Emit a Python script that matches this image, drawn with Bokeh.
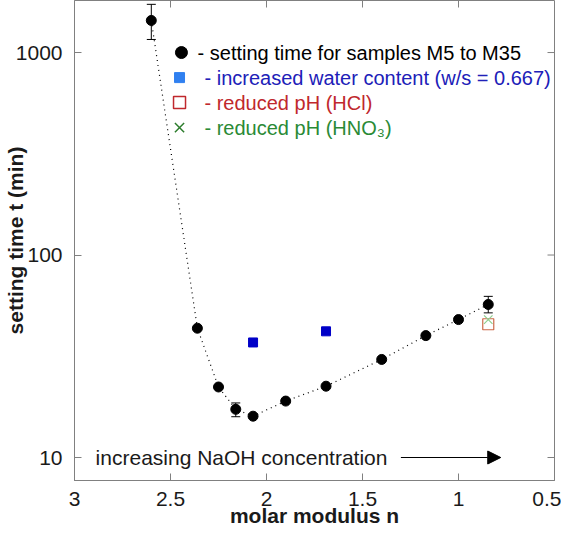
import math
from bokeh.plotting import figure
from bokeh.models import (Range1d, FixedTicker, ColumnDataSource,
                          Whisker, TeeHead, Arrow, NormalHead, Label)
from bokeh.embed import file_html
from bokeh.resources import INLINE

# ---------------- data ----------------
modulus = [2.6, 2.36, 2.25, 2.16, 2.07, 1.90, 1.69, 1.40, 1.17, 1.00, 0.845]
setting_time = [1440, 43.5, 22.3, 17.3, 16.0, 19.0, 22.5, 30.5, 40.0, 48.0, 57.0]

err_modulus = [2.6, 2.16, 0.845]
err_lower = [1160, 15.9, 51.8]
err_upper = [1730, 18.6, 62.5]

water_modulus = [2.07, 1.69]
water_time = [37.0, 42.0]

hcl_modulus = [0.845]
hcl_time = [45.5]

hno3_modulus = [0.845]
hno3_time = [48.0]

x_ticks = [3, 2.5, 2, 1.5, 1, 0.5]
x_tick_labels = ["3", "2.5", "2", "1.5", "1", "0.5"]
y_ticks = [10, 100, 1000]
y_tick_labels = ["10", "100", "1000"]

legend_texts = ["- setting time for samples M5 to M35",
                "- increased water content (w/s = 0.667)",
                "- reduced pH (HCl)",
                "- reduced pH (HNO\u2083)"]
annotation_text = "increasing NaOH concentration"

# ---------------- styles ----------------
FONT = "Liberation Sans"
FS = "21px"
LEG_FS = "20px"
AXIS_GRAY = "#808080"
TEXT_COL = "#1a1a1a"
X_LO, X_HI = 3, 0.5
Y_LO, Y_HI = 7.70, 1807

p = figure(width=561, height=533,
           x_range=Range1d(X_LO, X_HI), y_range=Range1d(Y_LO, Y_HI),
           y_axis_type="log", output_backend="svg", toolbar_location=None,
           min_border_left=74, min_border_right=7, min_border_top=0, min_border_bottom=53,
           x_axis_label="molar modulus n", y_axis_label="setting time t (min)")
p.grid.visible = False
p.outline_line_color = AXIS_GRAY
p.background_fill_color = "white"

for ax in (p.xaxis[0], p.yaxis[0]):
    ax.major_tick_in = 7
    ax.major_tick_out = 0
    ax.minor_tick_in = 0
    ax.minor_tick_out = 0
    ax.axis_line_color = AXIS_GRAY
    ax.major_tick_line_color = AXIS_GRAY
    ax.major_label_text_font = FONT
    ax.major_label_text_font_size = FS
    ax.major_label_text_color = TEXT_COL
    ax.axis_label_text_font = FONT
    ax.axis_label_text_font_size = FS
    ax.axis_label_text_font_style = "bold"
    ax.axis_label_text_color = TEXT_COL

p.xaxis[0].ticker = FixedTicker(ticks=x_ticks, minor_ticks=[])
p.xaxis[0].major_label_overrides = {t: s for t, s in zip(x_ticks, x_tick_labels)}
p.xaxis[0].major_label_standoff = 11
p.xaxis[0].axis_label_standoff = -5

p.yaxis[0].ticker = FixedTicker(ticks=y_ticks, minor_ticks=[])
p.yaxis[0].major_label_overrides = {t: s for t, s in zip(y_ticks, y_tick_labels)}
p.yaxis[0].major_label_standoff = 12
p.yaxis[0].axis_label_standoff = -14

# mirrored ticks on top and right frame edges (screen-length rays)
p.ray(x=x_ticks, y=[Y_HI] * len(x_ticks), length=7, length_units="screen",
      angle=-math.pi / 2, line_color=AXIS_GRAY, line_width=1)
p.ray(x=[X_HI] * len(y_ticks), y=y_ticks, length=7, length_units="screen",
      angle=math.pi, line_color=AXIS_GRAY, line_width=1)

# dotted guide line
p.line(modulus, setting_time, line_color="black", line_dash="1 4", line_width=1.2)

# error bars
esrc = ColumnDataSource(dict(x=err_modulus, lower=err_lower, upper=err_upper))
p.add_layout(Whisker(source=esrc, base="x", lower="lower", upper="upper",
                     dimension="height", line_color="black", line_width=1,
                     upper_head=TeeHead(size=9, line_color="black", line_width=1),
                     lower_head=TeeHead(size=9, line_color="black", line_width=1)))

# markers
p.scatter(modulus, setting_time, marker="circle", size=10, color="black")
p.scatter(water_modulus, water_time, marker="square", size=9, color="#0000c8")
p.scatter(hcl_modulus, hcl_time, marker="square", size=11, fill_color=None,
          line_color="#cc6a4a", line_width=1.2)
p.scatter(hno3_modulus, hno3_time, marker="x", size=12, line_color="#8fcf8f", line_width=1.2)

# legend (drawn manually to allow coloured labels)
leg_marker_x = [2.443, 2.453, 2.453, 2.453]
leg_text_x = [2.359, 2.323, 2.323, 2.323]
leg_y = [1000, 752, 566, 426]
leg_colors = ["black", "#2020b8", "#c0282d", "#2a8a36"]
p.scatter([leg_marker_x[0]], [leg_y[0]], marker="circle", size=12, color="black")
p.scatter([leg_marker_x[1]], [leg_y[1]], marker="square", size=10, color="#3080f0")
p.scatter([leg_marker_x[2]], [leg_y[2]], marker="square", size=12, fill_color=None,
          line_color="#c0282d", line_width=1.5)
p.scatter([leg_marker_x[3]], [leg_y[3]], marker="x", size=13, line_color="#2d7d2d", line_width=1.5)
for tx, ty, tt, tc in zip(leg_text_x, leg_y, legend_texts, leg_colors):
    p.add_layout(Label(x=tx, y=ty, text=tt, text_color=tc, text_font=FONT,
                       text_font_size=LEG_FS, text_baseline="middle", text_align="left"))

# arrow annotation
p.add_layout(Label(x=2.89, y=10, text=annotation_text, text_color=TEXT_COL, text_font=FONT,
                   text_font_size=FS, text_baseline="middle", text_align="left"))
p.add_layout(Arrow(x_start=1.30, y_start=10, x_end=0.78, y_end=10, line_color="black",
                   line_width=1,
                   end=NormalHead(size=13, fill_color="black", line_color="black")))

open("out.html", "w").write(file_html(p, INLINE))
